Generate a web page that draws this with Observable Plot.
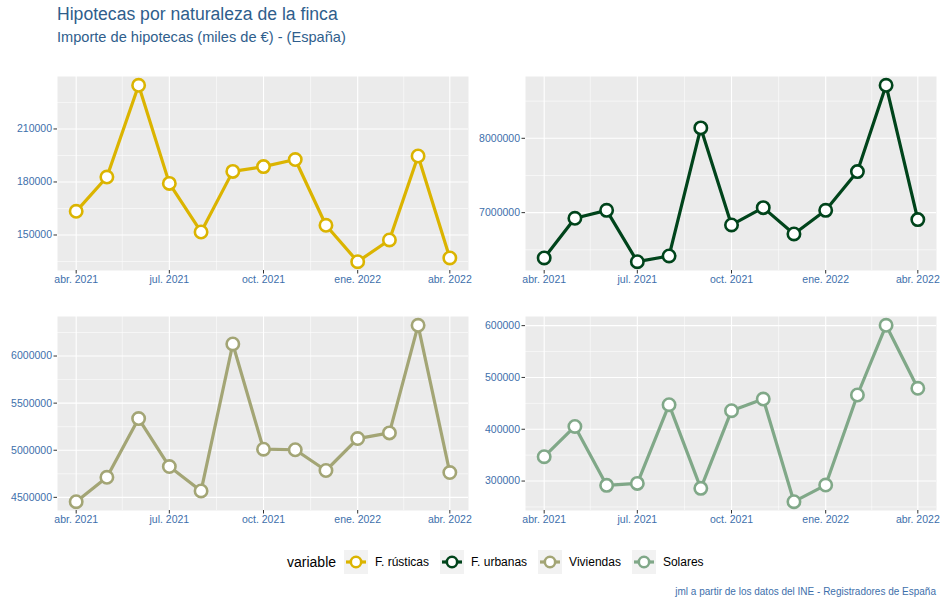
<!DOCTYPE html>
<html><head><meta charset="utf-8">
<script src="https://cdn.jsdelivr.net/npm/d3@7"></script>
<script src="https://cdn.jsdelivr.net/npm/@observablehq/plot@0.6"></script>
<style>
body{margin:0;background:#fff;font-family:"Liberation Sans",Arial,sans-serif;}
#wrap{position:relative;width:944px;height:607px;overflow:hidden;background:#fff}
.abs{position:absolute}
#title{left:57px;top:4px;font-size:17.6px;color:#2f5e8c;white-space:nowrap}
#subtitle{left:57px;top:29px;font-size:14.6px;color:#2f5e8c;white-space:nowrap}
#caption{right:8px;top:586px;font-size:10px;color:#3d6fab;white-space:nowrap}
#legend{left:287px;top:550px;height:24px;display:flex;align-items:center;white-space:nowrap}
#legend .lt{font-size:14px;color:#000;margin-right:8px}
#legend .lab{font-size:12px;color:#000;margin:0 11px 0 7px}
</style></head><body><div id="wrap">
<div id="title" class="abs">Hipotecas por naturaleza de la finca</div>
<div id="subtitle" class="abs">Importe de hipotecas (miles de €) - (España)</div>
<div id="legend" class="abs"></div>
<div id="caption" class="abs">jml a partir de los datos del INE - Registradores de España</div>
</div>
<script>
const months = ["2021-04-01","2021-05-01","2021-06-01","2021-07-01","2021-08-01","2021-09-01","2021-10-01","2021-11-01","2021-12-01","2022-01-01","2022-02-01","2022-03-01","2022-04-01"];
const rusticas = [163400,182800,234700,179200,151700,186000,188700,192700,155500,134900,147200,194700,137000];
const urbanas  = [6390000,6924000,7031000,6340000,6417000,8140000,6834000,7067000,6713000,7031000,7552000,8713000,6906000];
const viviendas= [4454000,4713000,5336000,4827000,4568000,6128000,5011000,5005000,4785000,5124000,5184000,6326000,4763000];
const solares  = [347000,405400,291700,295500,447400,285900,435800,458300,260200,292300,466100,600600,479000];
const seriesNames = ["F. rústicas","F. urbanas","Viviendas","Solares"];
const seriesColors = ["#dbb400","#00441b","#a3a575","#80a888"];
const xTickDates = ["2021-04-01","2021-07-01","2021-10-01","2022-01-01","2022-04-01"];
const xTickLabels = ["abr. 2021","jul. 2021","oct. 2021","ene. 2022","abr. 2022"];
const xMinorDates = ["2021-05-16","2021-08-16","2021-11-16","2022-02-15"];
const yTicks = [[150000,180000,210000],[7000000,8000000],[4500000,5000000,5500000,6000000],[300000,400000,500000,600000]];
const yMinor = [[135000,165000,195000,225000],[6500000,7500000,8500000],[4750000,5250000,5750000,6250000],[250000,350000,450000,550000]];

const allSeries = [rusticas, urbanas, viviendas, solares];
const labelMap = new Map(xTickDates.map((d,i)=>[d, xTickLabels[i]]));
const wrap = document.getElementById("wrap");

const layout = [
  {left:0, top:66, width:472, ml:57, mr:4},
  {left:472, top:66, width:472, ml:53, mr:8},
  {left:0, top:306, width:472, ml:57, mr:4},
  {left:472, top:306, width:472, ml:53, mr:8}
];

allSeries.forEach((values, k) => {
  const L = layout[k];
  const color = seriesColors[k];
  const data = months.map((m,i)=>({date:new Date(m), value:values[i]}));
  const lo = d3.min(values), hi = d3.max(values), pad = (hi-lo)*0.05;
  const x0 = +new Date(months[0]), x1 = +new Date(months[months.length-1]), padX = (x1-x0)*0.05;
  const xt = xTickDates.map(d=>new Date(d));
  const xm = xMinorDates.map(d=>new Date(d));
  const chart = Plot.plot({
    width: L.width, height: 230,
    marginLeft: L.ml, marginRight: L.mr, marginTop: 10, marginBottom: 26,
    x: {type:"utc", domain:[new Date(x0-padX), new Date(x1+padX)], label:null},
    y: {domain:[lo-pad, hi+pad], label:null},
    style: {fontFamily:'"Liberation Sans", Arial, sans-serif', fontSize:"10.5px", background:"transparent", overflow:"visible"},
    marks: [
      Plot.frame({fill:"#ebebeb", stroke:null}),
      Plot.gridY(yMinor[k], {stroke:"#ffffff", strokeOpacity:1, strokeWidth:0.55}),
      Plot.gridX(xm, {stroke:"#ffffff", strokeOpacity:1, strokeWidth:0.55}),
      Plot.gridY(yTicks[k], {stroke:"#ffffff", strokeOpacity:1, strokeWidth:1.1}),
      Plot.gridX(xt, {stroke:"#ffffff", strokeOpacity:1, strokeWidth:1.1}),
      Plot.line(data, {x:"date", y:"value", stroke:color, strokeWidth:3.2, strokeLinejoin:"round"}),
      Plot.dot(data, {x:"date", y:"value", r:6.2, fill:"white", stroke:color, strokeWidth:2.6}),
      Plot.axisX(xt, {tickFormat: d => labelMap.get(d.toISOString().slice(0,10)), tickSize:3.5, tickPadding:2, fill:"#3d6fab", stroke:"#333333", label:null}),
      Plot.axisY(yTicks[k], {tickFormat: d => String(d), tickSize:3.5, tickPadding:2, fill:"#3d6fab", stroke:"#333333", label:null})
    ]
  });
  chart.style.position = "absolute";
  chart.style.left = L.left + "px";
  chart.style.top = L.top + "px";
  wrap.appendChild(chart);
});

// legend
const legend = document.getElementById("legend");
const lt = document.createElement("span"); lt.className = "lt"; lt.textContent = "variable"; legend.appendChild(lt);
seriesNames.forEach((name, i) => {
  const ns = "http://www.w3.org/2000/svg";
  const svg = document.createElementNS(ns, "svg");
  svg.setAttribute("width", 24); svg.setAttribute("height", 24);
  const r = document.createElementNS(ns, "rect");
  r.setAttribute("width", 24); r.setAttribute("height", 24); r.setAttribute("fill", "#f2f2f2");
  svg.appendChild(r);
  const ln = document.createElementNS(ns, "line");
  ln.setAttribute("x1", 2); ln.setAttribute("x2", 22); ln.setAttribute("y1", 12); ln.setAttribute("y2", 12);
  ln.setAttribute("stroke", seriesColors[i]); ln.setAttribute("stroke-width", 3.2);
  svg.appendChild(ln);
  const c = document.createElementNS(ns, "circle");
  c.setAttribute("cx", 12); c.setAttribute("cy", 12); c.setAttribute("r", 5.2);
  c.setAttribute("fill", "white"); c.setAttribute("stroke", seriesColors[i]); c.setAttribute("stroke-width", 2.6);
  svg.appendChild(c);
  legend.appendChild(svg);
  const lab = document.createElement("span"); lab.className = "lab"; lab.textContent = name;
  legend.appendChild(lab);
});
</script>
</body></html>
